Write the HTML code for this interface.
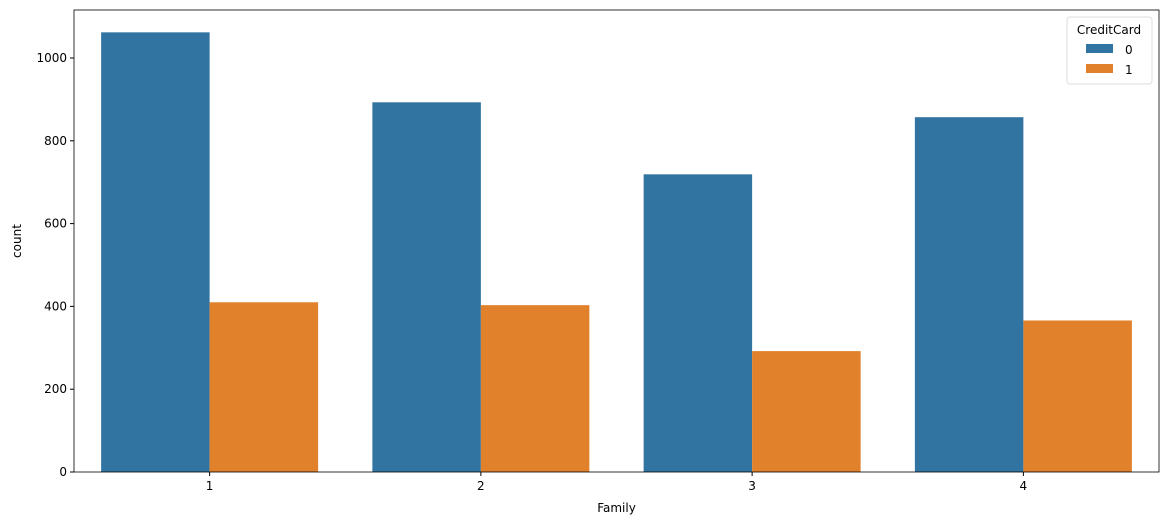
<!DOCTYPE html>
<html><head><meta charset="utf-8"><style>
body{margin:0;background:#fff;font-family:"Liberation Sans","DejaVu Sans",sans-serif;}
svg text{font-family:"DejaVu Sans","Liberation Sans",sans-serif;font-size:12px;fill:#000;}
</style></head><body>
<svg id="chart" width="1169" height="525" xmlns="http://www.w3.org/2000/svg"></svg>
<script>
const categories = ["1","2","3","4"];
const series0 = [1062, 893, 719, 857];
const series1 = [410, 403, 292, 366];
const yTicks = [0,200,400,600,800,1000];
const seriesNames = ["0","1"];
const colors = ["#3274a1","#e1812c"];
const NS="http://www.w3.org/2000/svg";
const svg=document.getElementById('chart');
const L=74,R=1159,T=10,B=472;
const y=v=>B-v*0.414;
const groupW=(R-L)/categories.length;
const x=i=>L+groupW*(i+0.5);
const barW=groupW*0.4;
function mk(tag,attrs){const e=document.createElementNS(NS,tag);for(const k in attrs)e.setAttribute(k,attrs[k]);svg.appendChild(e);return e;}
[series0,series1].forEach((s,si)=>{
 s.forEach((v,i)=>{
  const r=mk('rect',{x:x(i)-barW+si*barW,y:y(v),width:barW,height:B-y(v),fill:colors[si]});
  
  
 });
});
const frame=mk('rect',{x:L,y:T,width:R-L,height:B-T,fill:'none',stroke:'#000','stroke-width':0.8});


yTicks.forEach(t=>{
 const l=mk('line',{x1:L-4,x2:L,y1:y(t),y2:y(t),stroke:'#000'});
 
 
 const tx=mk('text',{x:L-7,y:y(t)+4,'text-anchor':'end'});tx.textContent=t;
 
 
});
categories.forEach((c,i)=>{
 const l=mk('line',{x1:x(i),x2:x(i),y1:B,y2:B+4,stroke:'#000'});
 
 
 const tx=mk('text',{x:x(i),y:B+18,'text-anchor':'middle'});tx.textContent=c;
 
 
});
const xt=mk('text',{x:(L+R)/2,y:512,'text-anchor':'middle'});xt.textContent='Family';


const yt=mk('text',{x:21,y:(T+B)/2,'text-anchor':'middle',transform:`rotate(-90 21 ${(T+B)/2})`});yt.textContent='count';


const lb=mk('rect',{x:1067,y:17,width:85,height:67,rx:3,fill:'#fff',stroke:'#ddd'});


const lt=mk('text',{x:1109,y:34,'text-anchor':'middle'});lt.textContent='CreditCard';


seriesNames.forEach((n,i)=>{
 const p=mk('rect',{x:1086,y:44+i*20,width:27,height:9,fill:colors[i]});
 
 
 const t=mk('text',{x:1125,y:54+i*20});t.textContent=n;
 
 
});
</script>
</body></html>
